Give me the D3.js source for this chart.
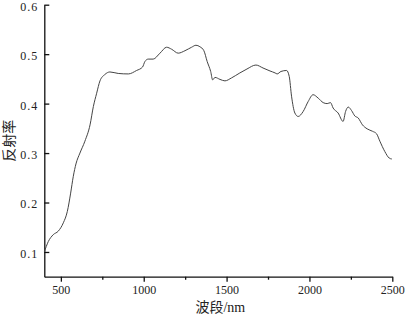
<!DOCTYPE html>
<html>
<head>
<meta charset="utf-8">
<script src="https://cdn.jsdelivr.net/npm/d3@7"></script>
<style>
  body { margin: 0; background: #fff; }
  svg text { font-family: "Liberation Serif", "DejaVu Serif", "Noto Sans CJK SC", serif !important; }
</style>
</head>
<body>
<div id="chart"></div>
<script>
// Spectrum.
var wavelengths = [400, 424, 454, 484, 515, 539, 559, 575, 591, 615, 645, 676, 696, 716, 736, 766, 796, 846, 907, 957,
  993, 1007, 1027, 1057, 1098, 1138, 1168, 1208, 1249, 1289, 1315, 1339, 1363, 1383, 1404, 1416, 1430, 1460, 1490, 1530,
  1580, 1623, 1677, 1720, 1762, 1793, 1805, 1828, 1862, 1878, 1892, 1912, 1932, 1962, 1992, 2022, 2053, 2083, 2107, 2127,
  2143, 2173, 2203, 2218, 2234, 2254, 2274, 2294, 2320, 2348, 2381, 2405, 2425, 2455, 2481, 2497];
var reflectance = [0.100, 0.121, 0.135, 0.142, 0.159, 0.182, 0.219, 0.253, 0.278, 0.300, 0.324, 0.357, 0.394, 0.421, 0.446, 0.459, 0.464, 0.461, 0.460, 0.467,
  0.474, 0.485, 0.490, 0.490, 0.502, 0.514, 0.510, 0.502, 0.507, 0.514, 0.518, 0.515, 0.507, 0.485, 0.465, 0.448, 0.453, 0.449, 0.446, 0.452,
  0.462, 0.470, 0.478, 0.472, 0.466, 0.462, 0.460, 0.465, 0.467, 0.455, 0.415, 0.381, 0.374, 0.384, 0.404, 0.418, 0.411, 0.402, 0.400, 0.402,
  0.391, 0.381, 0.364, 0.384, 0.393, 0.386, 0.375, 0.371, 0.357, 0.349, 0.344, 0.339, 0.324, 0.303, 0.290, 0.288];

var xTicks = [500, 1000, 1500, 2000, 2500];
var xMinorTicks = [750, 1250, 1750, 2250];
var yTicks = [0.1, 0.2, 0.3, 0.4, 0.5, 0.6];
var xTitle = "波段/nm";
var yTitle = "反射率";

var data = wavelengths.map(function(w, i) { return { nm: w, r: reflectance[i] }; });

var svgWidth = 406, svgHeight = 319;
var margin = { top: 4.7, right: 13.7, bottom: 42.3, left: 44.3 };
var width = svgWidth - margin.left - margin.right;
var height = svgHeight - margin.top - margin.bottom;

var xScale = d3.scaleLinear().domain([400, 2500]).range([0, width]);
var yScale = d3.scaleLinear().domain([0.05, 0.6]).range([height, 0]);

var svg = d3.select("#chart").append("svg")
  .attr("width", svgWidth)
  .attr("height", svgHeight)
  .append("g")
  .attr("transform", "translate(" + margin.left + "," + margin.top + ")");

// Minor x ticks first, under the main axis.
svg.append("g")
  .attr("class", "x_minor")
  .attr("transform", "translate(0," + height + ")")
  .call(d3.axisBottom(xScale).tickValues(xMinorTicks).tickSize(3).tickFormat(""))
  .call(function(g) { g.select(".domain").remove(); });

svg.append("g")
  .attr("class", "x_axis")
  .attr("transform", "translate(0," + height + ")")
  .call(d3.axisBottom(xScale).tickValues(xTicks).tickSize(5).tickSizeOuter(0).tickPadding(4).tickFormat(d3.format("d")));

// y ticks point into the plot.
svg.append("g")
  .attr("class", "y_axis")
  .call(d3.axisLeft(yScale).tickValues(yTicks).tickSize(-5).tickSizeOuter(0).tickPadding(6).tickFormat(d3.format(".1f")));

svg.selectAll(".x_axis, .y_axis")
  .attr("font-family", null)
  .attr("font-size", 12);
svg.selectAll(".x_axis text, .y_axis text")
  .attr("fill", "#222");
svg.selectAll(".y_axis text")
  .attr("dy", "0.45em")
  .style("letter-spacing", "1px");
svg.selectAll(".domain, .tick line")
  .attr("stroke", "#111")
  .attr("stroke-width", 1.3);

var line = d3.line()
  .x(function(d) { return xScale(d.nm); })
  .y(function(d) { return yScale(d.r); })
  .curve(d3.curveMonotoneX);

svg.append("path")
  .datum(data)
  .attr("fill", "none")
  .attr("stroke", "#444")
  .attr("stroke-width", 1)
  .attr("d", line);

// Axis titles.
svg.append("text")
  .attr("x", 176)
  .attr("y", 307)
  .attr("text-anchor", "middle")
  .attr("font-size", 14)
  .attr("fill", "#222")
  .text(xTitle);

svg.append("text")
  .attr("transform", "translate(" + (-margin.left + 14) + "," + 136 + ") rotate(-90)")
  .attr("text-anchor", "middle")
  .attr("font-size", 14)
  .attr("fill", "#222")
  .text(yTitle);
</script>
</body>
</html>
